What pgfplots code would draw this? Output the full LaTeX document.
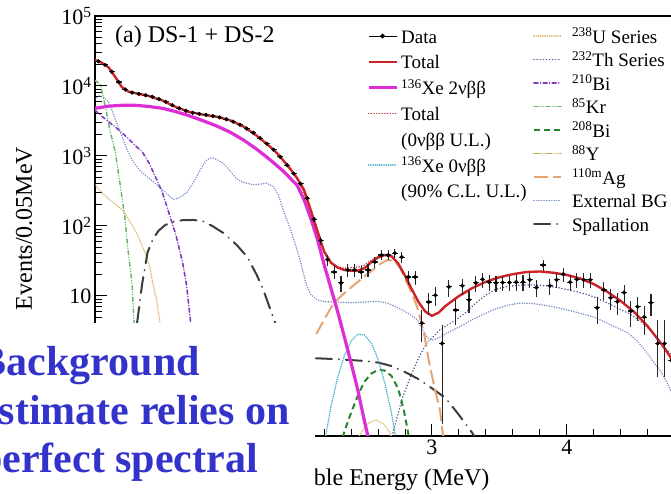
\documentclass[border=0pt]{standalone}
\usepackage{fontspec}
\setmainfont{Liberation Serif}
\usepackage{pgfplots}
\usepackage{pgfplotstable}
\pgfplotsset{compat=1.18}

\definecolor{totred}{RGB}{205,35,40}
\definecolor{ulred}{RGB}{185,30,40}
\definecolor{twonu}{RGB}{222,45,212}
\definecolor{zeronu}{RGB}{70,178,205}
\definecolor{useries}{RGB}{222,182,112}
\definecolor{thseries}{RGB}{70,80,140}
\definecolor{bitwoten}{RGB}{130,60,190}
\definecolor{krypton}{RGB}{105,185,105}
\definecolor{bitwoeight}{RGB}{40,130,50}
\definecolor{yttrium}{RGB}{185,172,70}
\definecolor{silver}{RGB}{228,165,115}
\definecolor{extbg}{RGB}{115,140,195}
\definecolor{spall}{RGB}{60,60,60}
\definecolor{slideblue}{RGB}{51,51,204}

\tikzset{
  sTotal/.style={totred, line width=2.4pt},
  sTwoNu/.style={twonu, line width=3.2pt},
  sTotalUL/.style={ulred, line width=1.5pt, line cap=round, dash pattern=on 0.1pt off 2.6pt},
  sZeroNu/.style={zeronu, line width=1.7pt, line cap=round, dash pattern=on 0.1pt off 2.1pt},
  sU/.style={useries, line width=1.7pt, line cap=round, dash pattern=on 0.1pt off 2.1pt},
  sTh/.style={thseries, line width=1.6pt, line cap=round, dash pattern=on 0.1pt off 3pt},
  sBi/.style={bitwoten, line width=1.6pt, line cap=round, dash pattern=on 4pt off 2.5pt on 0.1pt off 2.5pt},
  sKr/.style={krypton, line width=1.5pt, line cap=round, dash pattern=on 4pt off 2.5pt on 0.1pt off 2.5pt on 0.1pt off 2.5pt},
  sBiE/.style={bitwoeight, line width=2pt, dash pattern=on 6pt off 4pt},
  sY/.style={yttrium, line width=1.6pt, line cap=round, dash pattern=on 5pt off 2.5pt on 0.1pt off 2.5pt on 0.1pt off 2.5pt},
  sAg/.style={silver, line width=2pt, dash pattern=on 14pt off 5pt},
  sExt/.style={extbg, line width=1.6pt, line cap=round, dash pattern=on 0.1pt off 2.4pt},
  sSpall/.style={spall, line width=2pt, line cap=round, dash pattern=on 16pt off 7pt on 0.1pt off 7pt},
}

% Measured spectrum: bin centre, counts, upper and lower error
\pgfplotstableread{
x y ep em
0.525 22600 150 150
0.575 20000 141 141
0.625 16000 126 126
0.675 11400 107 107
0.725 8900 94 94
0.775 8050 90 90
0.825 7700 88 88
0.875 7400 86 86
0.925 7000 84 84
0.975 6500 81 81
1.025 5950 77 77
1.075 5300 73 73
1.125 4800 69 69
1.175 4420 66 66
1.225 4150 64 64
1.275 3990 63 63
1.325 3860 62 62
1.375 3720 61 61
1.425 3560 60 60
1.475 3350 58 58
1.525 3100 56 56
1.575 2800 53 53
1.625 2470 50 50
1.675 2150 46 46
1.725 1800 42 42
1.775 1500 39 39
1.825 1230 35 35
1.875 970 31 31
1.925 740 27 27
1.975 560 24 24
2.025 400 20 20
2.075 250 16 16
2.125 125 11 11
2.175 62 8 8
2.225 33 5.8 5.8
2.275 22 4.7 4.7
2.325 15.4 3.9 3.9
2.375 23.5 4.8 4.8
2.425 23.5 4.8 4.8
2.475 22 4.7 4.7
2.525 23.5 4.8 4.8
2.575 30.6 5.5 5.5
2.625 38.5 6.2 6.2
2.675 38.5 6.2 6.2
2.725 41 6.4 6.4
2.775 36 6 6
2.825 18.7 4.3 4.3
2.875 18.7 4.3 4.3
2.925 4.1 2.2 1.9
2.975 8.2 2.9 2.9
3.025 10.3 3.2 3.2
3.075 2.1 1.8 1.95
3.125 13.5 3.7 3.7
3.175 6.3 2.5 2.5
3.225 14 3.7 3.7
3.275 8.8 3 3
3.325 15.4 3.9 3.9
3.375 17.3 4.2 4.2
3.425 15.8 4 4
3.475 15.4 3.9 3.9
3.525 15.6 3.9 3.9
3.575 15.6 3.9 3.9
3.625 15.8 4 4
3.675 15.8 4 4
3.725 17 4.1 4.1
3.775 13.2 3.6 3.6
3.825 27.7 5.3 5.3
3.875 14 3.7 3.7
3.925 17 4.1 4.1
3.975 20.5 4.5 4.5
4.025 15.8 4 4
4.075 17.3 4.2 4.2
4.125 17 4.1 4.1
4.175 17 4.1 4.1
4.225 6.8 2.8 2.8
4.275 12.2 3.5 3.5
4.325 9.4 3.1 3.1
4.375 8.3 2.9 2.9
4.425 11.2 3.3 3.3
4.475 6.1 2.5 2.5
4.525 7 2.6 2.6
4.575 5 2.2 2.2
4.625 8 2.8 2.8
4.675 2.1 2.4 1.4
4.725 2.1 2.4 1.4
4.775 1.2 1.8 0.9
}\datatab

\pgfplotstableread{
x y
0.50 23500
0.55 21500
0.60 18500
0.65 13500
0.70 9600
0.75 8300
0.80 7900
0.90 7200
1.00 6200
1.10 5000
1.20 4250
1.30 3900
1.40 3650
1.50 3250
1.60 2650
1.70 1950
1.80 1350
1.85 1100
1.90 850
1.95 650
2.00 480
2.05 330
2.10 170
2.15 85
2.20 43
2.25 30
2.30 25.5
2.35 23.5
2.40 23
2.45 23
2.50 25
2.55 30.5
2.60 35.5
2.65 38.5
2.70 37
2.75 29
2.80 19.5
2.85 12.5
2.90 8.2
2.95 6
3.00 5.2
3.05 5.8
3.10 7.2
3.20 10
3.30 13
3.40 16
3.50 18.5
3.60 20.5
3.70 22
3.80 22.4
3.90 21.5
4.00 20
4.10 17.8
4.20 14.8
4.30 11.5
4.40 8.5
4.50 5.9
4.60 3.7
4.70 2.1
4.80 1.1
}\totaltab

\pgfplotstableread{
x y
1.80 1350
1.90 850
2.00 480
2.10 170
2.15 85
2.20 43.1
2.25 30.3
2.30 26.2
2.35 24.9
2.40 25.3
2.45 25.8
2.50 27.8
2.55 32.6
2.60 36.8
2.65 39.1
2.70 37.2
2.75 29.1
2.80 19.5
2.85 12.5
2.90 8.2
2.95 6
3.00 5.2
3.05 5.8
3.10 7.2
3.20 10
}\totalultab

\pgfplotstableread{
x y
0.50 4800
0.60 5150
0.70 5300
0.80 5300
0.90 5100
1.00 4800
1.10 4300
1.20 3750
1.30 3200
1.40 2700
1.50 2200
1.60 1700
1.70 1250
1.80 880
1.90 600
2.00 380
2.05 240
2.10 130
2.15 65
2.20 28
2.25 13
2.30 6
2.35 2.6
2.40 1.1
2.45 0.45
2.50 0.16
2.53 0.09
}\twonutab

\pgfplotstableread{
x y
2.18 0.05
2.20 0.076
2.25 0.26
2.30 0.68
2.35 1.41
2.40 2.27
2.45 2.84
2.50 2.77
2.55 2.11
2.60 1.25
2.65 0.57
2.70 0.21
2.75 0.058
2.80 0.013
}\zeronutab

\pgfplotstableread{
x y
0.50 385
0.55 300
0.61 235
0.66 200
0.71 165
0.76 115
0.81 79
0.85 52
0.886 36
0.91 24
0.93 15
0.96 8
0.982 4.1
1.00 2.2
1.03 0.9
1.07 0.3
1.12 0.08
1.20 0.03
2.40 0.03
2.46 0.1
2.52 0.15
2.58 0.17
2.64 0.15
2.69 0.11
2.73 0.06
}\utab

\pgfplotstableread{
x y
2.66 0.07
2.71 0.11
2.78 0.35
2.84 0.7
2.90 1.3
2.96 2.1
3.06 3.3
3.18 4.6
3.25 5.8
3.32 7.8
3.40 10.3
3.47 12.4
3.55 13.6
3.65 14.3
3.75 14.4
3.85 14.0
3.95 13.0
4.05 11.8
4.15 10.5
4.20 9.7
4.30 8.0
4.40 6.4
4.47 5.5
4.55 4.3
4.64 3.0
4.71 2.0
4.77 1.5
4.80 1.25
}\thtab

\pgfplotstableread{
x y
0.50 4500
0.55 3700
0.60 3100
0.65 2600
0.70 2150
0.75 1750
0.80 1400
0.85 1150
0.90 800
0.96 450
1.00 300
1.05 150
1.10 75
1.15 30
1.18 14
1.205 5
1.23 2
1.26 0.6
1.30 0.1
1.33 0.04
}\bitentab

\pgfplotstableread{
x y
0.50 12000
0.54 10500
0.58 4800
0.61 2350
0.65 1150
0.685 411
0.72 140
0.745 45
0.775 15
0.79 4.1
0.82 1
0.86 0.1
0.88 0.04
}\krtab

\pgfplotstableread{
x y
2.31 0.07
2.34 0.1
2.38 0.17
2.42 0.27
2.46 0.42
2.50 0.6
2.55 0.78
2.60 0.88
2.65 0.86
2.70 0.72
2.75 0.47
2.79 0.24
2.82 0.12
2.84 0.07
}\bieighttab

\pgfplotstableread{
x y
1.90 0.08
2.00 0.6
2.07 1.5
2.13 2.6
2.20 4.6
2.27 7.9
2.35 11
2.44 15.4
2.50 19
2.56 23.5
2.62 29
2.67 32.7
2.72 31.5
2.76 26
2.80 18
2.85 11
2.89 7
2.94 3
2.985 0.97
3.03 0.4
3.06 0.23
3.08 0.11
3.10 0.07
}\agtab

\pgfplotstableread{
x y
0.50 6500
0.53 7200
0.56 7000
0.60 6000
0.63 4300
0.66 3000
0.70 1900
0.74 1200
0.78 850
0.83 630
0.90 480
0.98 360
1.04 280
1.08 240
1.12 250
1.18 300
1.23 420
1.28 630
1.32 850
1.36 940
1.40 900
1.45 790
1.50 620
1.55 470
1.60 420
1.67 390
1.72 395
1.77 410
1.82 370
1.86 280
1.90 160
1.95 90
2.00 45
2.03 28
2.07 14
2.10 10.5
2.15 8.8
2.20 8.3
2.30 8.2
2.40 8.0
2.50 8.2
2.60 8.4
2.66 8.0
2.72 7.2
2.78 6.3
2.84 5.4
2.89 4.6
2.93 3.3
2.97 2.5
3.00 2.35
3.05 2.5
3.10 2.9
3.20 3.6
3.30 4.6
3.40 5.7
3.45 6.3
3.55 7.3
3.65 7.9
3.75 7.8
3.85 7.3
3.95 6.7
4.05 6.0
4.20 5.0
4.30 4.1
4.45 3.0
4.52 2.3
4.60 1.5
4.65 1.1
4.69 0.88
4.74 0.6
4.77 0.45
4.80 0.36
}\exttab

\pgfplotstableread{
x y
0.74 0.08
0.77 0.6
0.79 1.6
0.812 4.1
0.85 15
0.89 42
0.93 65
0.97 85
1.02 103
1.08 115
1.15 121
1.23 122
1.30 117
1.37 100
1.45 80
1.55 54
1.63 36
1.70 20
1.75 12
1.80 6.5
1.85 3.5
1.92 2.0
2.00 1.4
2.10 1.3
2.30 1.25
2.50 1.18
2.60 1.12
2.70 1.0
2.80 0.82
2.90 0.65
3.00 0.48
3.10 0.35
3.20 0.2
3.30 0.11
3.36 0.07
}\spalltab

\begin{document}
\begin{tikzpicture}
\useasboundingbox (0pt,0pt) rectangle (671pt,494pt);
\clip (0pt,0pt) rectangle (671pt,494pt);

\begin{axis}[
  at={(95pt,58pt)}, anchor=south west, scale only axis,
  width=579.6pt, height=420pt,
  xmin=0.5, xmax=4.8, ymode=log, ymin=0.1, ymax=1e5,
  xtick={1,2,3,4}, xticklabels={,,3,4},
  minor xtick={0.6,0.8,...,4.8},
  ytick={0.1,1,10,100,1000,10000,100000},
  yticklabels={,,10,10\textsuperscript{2},10\textsuperscript{3},10\textsuperscript{4},10\textsuperscript{5}},
  minor ytick={0.2,0.3,0.4,0.5,0.6,0.7,0.8,0.9,2,3,4,5,6,7,8,9,20,30,40,50,60,70,80,90,200,300,400,500,600,700,800,900,2000,3000,4000,5000,6000,7000,8000,9000,20000,30000,40000,50000,60000,70000,80000,90000},
  tick pos=left, tick align=inside,
  major tick length=12pt, minor tick length=7pt,
  every tick/.append style={black, line width=1pt},
  axis line style={black, line width=1.3pt},
  tick label style={font=\fontsize{22}{24}\selectfont},
  xlabel={Visible Energy (MeV)}, ylabel={Events/0.05MeV},
  label style={font=\fontsize{24}{26}\selectfont},
  xlabel style={at={(axis description cs:0.6867,-0.1167)}, anchor=base east},
  ylabel style={at={(axis description cs:-0.1225,0.494)}, anchor=center},
]
\addplot[sExt] table {\exttab};
\addplot[sTh] table {\thtab};
\addplot[sU] table {\utab};
\addplot[sKr] table {\krtab};
\addplot[sBi] table {\bitentab};
\addplot[sSpall] table {\spalltab};
\addplot[sAg] table {\agtab};
\addplot[sBiE] table {\bieighttab};
\addplot[sZeroNu] table {\zeronutab};
\addplot[sTwoNu] table {\twonutab};
\addplot[sTotalUL] table {\totalultab};
\addplot[sTotal] table {\totaltab};
\addplot[only marks, mark=*, mark size=1.9pt, black,
  error bars/.cd, y dir=both, y explicit, x dir=both, x fixed=0.022,
  error mark=none, error bar style={line width=1.1pt, black!85}]
  table[x=x, y=y, y error plus=ep, y error minus=em] {\datatab};

\node[anchor=base west, inner sep=0pt, font=\fontsize{24}{26}\selectfont]
  at (axis description cs:0.0345,0.938) {(a) DS-1 + DS-2};
\end{axis}

% left legend column
\begin{axis}[
  at={(95pt,58pt)}, anchor=south west, scale only axis,
  width=579.6pt, height=420pt, hide axis,
  xmin=0, xmax=1, ymin=0, ymax=1,
  legend cell align=left,
  legend image code/.code={\draw[mark repeat=2,mark phase=2] plot coordinates {(0pt,2.5pt) (14pt,2.5pt) (28pt,2.5pt)};},
  legend style={at={(axis description cs:0.4693,0.969)}, anchor=north west,
    draw=none, fill=none, inner sep=0pt, outer sep=0pt,
    row sep=6.8pt, column sep=3pt,
    font=\fontsize{19}{22}\selectfont,
    nodes={inner sep=0pt, text height=14pt, text depth=5pt}},
]
\addlegendimage{black, line width=1pt, mark=*, mark size=1.9pt}
\addlegendentry{Data}
\addlegendimage{sTotal, line width=2pt}
\addlegendentry{Total}
\addlegendimage{sTwoNu}
\addlegendentry{\textsuperscript{136}Xe 2νββ}
\addlegendimage{sTotalUL}
\addlegendentry{Total}
\addlegendimage{empty legend}
\addlegendentry{(0νββ U.L.)}
\addlegendimage{sZeroNu}
\addlegendentry{\textsuperscript{136}Xe 0νββ}
\addlegendimage{empty legend}
\addlegendentry{(90\% C.L. U.L.)}
\end{axis}

% right legend column
\begin{axis}[
  at={(95pt,58pt)}, anchor=south west, scale only axis,
  width=579.6pt, height=420pt, hide axis,
  xmin=0, xmax=1, ymin=0, ymax=1,
  legend cell align=left,
  legend image code/.code={\draw plot coordinates {(0pt,2.5pt) (27pt,2.5pt)};},
  legend style={at={(axis description cs:0.7557,0.969)}, anchor=north west,
    draw=none, fill=none, inner sep=0pt, outer sep=0pt,
    row sep=4.5pt, column sep=10pt,
    font=\fontsize{19}{22}\selectfont,
    nodes={inner sep=0pt, text height=14pt, text depth=5pt}},
]
\addlegendimage{sU}
\addlegendentry{\textsuperscript{238}U Series}
\addlegendimage{sTh}
\addlegendentry{\textsuperscript{232}Th Series}
\addlegendimage{sBi}
\addlegendentry{\textsuperscript{210}Bi}
\addlegendimage{sKr}
\addlegendentry{\textsuperscript{85}Kr}
\addlegendimage{sBiE}
\addlegendentry{\textsuperscript{208}Bi}
\addlegendimage{sY}
\addlegendentry{\textsuperscript{88}Y}
\addlegendimage{sAg}
\addlegendentry{\textsuperscript{110m}Ag}
\addlegendimage{sExt}
\addlegendentry{External BG}
\addlegendimage{sSpall}
\addlegendentry{Spallation}
\end{axis}

% slide text box laid over the lower left corner
\fill[white] (-1pt,-1pt) rectangle (315pt,171pt);
\begin{scope}[every node/.style={anchor=base east, inner sep=0pt, text=slideblue,
    font=\fontsize{42}{46}\selectfont\bfseries}]
  \node at (200pt,118pt) {Background};
  \node at (290pt,69pt) {estimate relies on};
  \node at (258pt,21pt) {perfect spectral};
\end{scope}
\end{tikzpicture}
\end{document}
